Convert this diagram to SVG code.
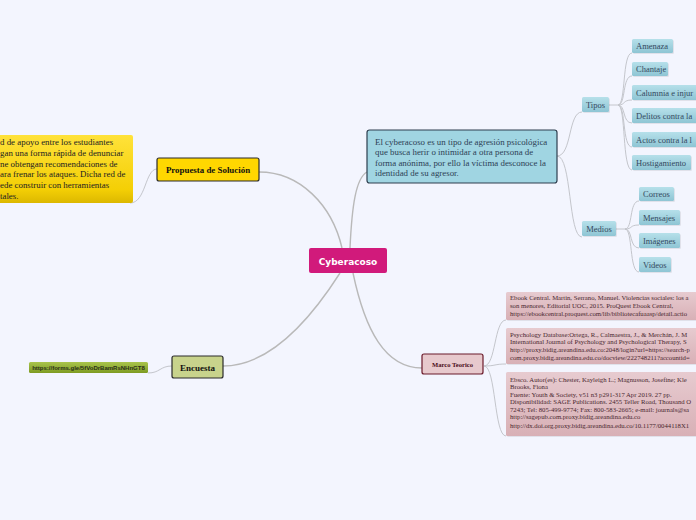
<svg xmlns="http://www.w3.org/2000/svg" width="696" height="520" viewBox="0 0 696 520">
<style>
.bg{fill:#f3f5fe}
.conn{fill:none;stroke:#b9b9b9;stroke-width:1.4}
.sub{fill:none;stroke:#c4c6cc;stroke-width:1}
.serif{font-family:"Liberation Serif","Times New Roman",serif}
.sans{font-family:"DejaVu Sans","Liberation Sans",sans-serif}
.main{fill:#d11a7b}
.mainT{fill:#fff;font-weight:bold;font-size:9px}
.topic{stroke:#2b2b2b;stroke-width:1.2}
.topicT{font-weight:bold;fill:#111}
.leaf{fill:url(#blue)}
.leafT{font-size:8.5px;fill:#34495e}
.ref{fill:url(#pink)}
.refT{font-size:6.7px;fill:#4a2830}
.shadow{fill:#000;opacity:0.08}
</style>
<defs>
<linearGradient id="blue" x1="0" y1="0" x2="0" y2="1">
<stop offset="0" stop-color="#b6e0ea"/><stop offset="1" stop-color="#8ec5d4"/>
</linearGradient>
<linearGradient id="pink" x1="0" y1="0" x2="0" y2="1">
<stop offset="0" stop-color="#e7cbd0"/><stop offset="1" stop-color="#d8b0b6"/>
</linearGradient>
<linearGradient id="yellow" x1="0" y1="0" x2="0" y2="1">
<stop offset="0" stop-color="#ffe23a"/><stop offset="0.8" stop-color="#f4cf05"/><stop offset="1" stop-color="#dcb800"/>
</linearGradient>
<linearGradient id="green" x1="0" y1="0" x2="0" y2="1">
<stop offset="0" stop-color="#a9c44c"/><stop offset="1" stop-color="#7e9b22"/>
</linearGradient>
</defs>
<rect class="bg" x="0" y="0" width="696" height="520"/>

<g id="connectors">
<path class="conn" d="M342,248 C332,205 300,172 259,172"/>
<path class="conn" d="M350,248 C352,205 356,178 367,172"/>
<path class="conn" d="M353,273 C365,330 385,368 422,368"/>
<path class="conn" d="M340,273 C310,320 270,366 223,366"/>
<path class="sub" d="M157,169 C145,169 146,203 130,203"/>
<path class="sub" d="M172,366 C160,366 160,373 148,373"/>
<path class="sub" d="M557,156 C572,156 568,112 582,112"/>
<path class="sub" d="M557,156 C572,156 568,237 582,237"/>
<path class="sub" d="M609,105 L618,105"/>
<path class="sub" d="M618,105 C626,105 622,53 632,53"/>
<path class="sub" d="M618,105 C626,105 622,76 632,76"/>
<path class="sub" d="M618,105 C626,105 622,100 632,100"/>
<path class="sub" d="M618,105 C626,105 622,123 632,123"/>
<path class="sub" d="M618,105 C626,105 622,147 632,147"/>
<path class="sub" d="M618,105 C626,105 622,170 632,170"/>
<path class="sub" d="M616,229 L625,229"/>
<path class="sub" d="M625,229 C633,229 629,201 639,201"/>
<path class="sub" d="M625,229 C633,229 629,225 639,225"/>
<path class="sub" d="M625,229 C633,229 629,248 639,248"/>
<path class="sub" d="M625,229 C633,229 629,272 639,272"/>
<path class="sub" d="M484,366 C496,366 494,320 506,320"/>
<path class="sub" d="M484,366 C496,366 494,364 506,364"/>
<path class="sub" d="M484,366 C496,366 494,436 506,436"/>
</g>

<g id="cyberacoso">
<rect class="main" x="309" y="248" width="78" height="25" rx="2"/>
<text class="sans mainT" x="348" y="264.5" text-anchor="middle">Cyberacoso</text>
</g>

<g id="propuesta">
<rect class="topic" x="157" y="158" width="102" height="23" rx="2" fill="#ffd700"/>
<text class="serif topicT" x="208" y="173" font-size="8.9" text-anchor="middle">Propuesta de Solución</text>
</g>

<g id="nota-propuesta">
<rect x="-4" y="135" width="137" height="68" rx="2" fill="url(#yellow)"/>
<g class="serif" font-size="8.9" fill="#222">
<text x="0" y="145">d de apoyo entre los estudiantes</text>
<text x="0" y="155.8">gan una forma rápida de denunciar</text>
<text x="0" y="166.6">ne obtengan recomendaciones de</text>
<text x="0" y="177.4">ara frenar los ataques. Dicha red de</text>
<text x="0" y="188.2">ede construir con herramientas</text>
<text x="0" y="199">tales.</text>
</g>
</g>

<g id="definicion">
<rect x="367" y="130" width="190" height="53" rx="2.5" fill="#a0d5e2" stroke="#2e3f4f" stroke-width="1.2"/>
<g class="serif" font-size="8.9" fill="#2d4155">
<text x="375" y="144.5">El cyberacoso es un tipo de agresión psicológica</text>
<text x="375" y="155">que busca herir o intimidar a otra persona de</text>
<text x="375" y="165.5">forma anónima, por ello la víctima desconoce la</text>
<text x="375" y="176">identidad de su agresor.</text>
</g>
</g>

<g id="tipos">
<rect class="shadow" x="583" y="98" width="27" height="15" rx="1.5"/>
<rect class="leaf" x="582" y="97" width="27" height="15" rx="1.5"/>
<text class="serif leafT" x="595.5" y="107.5" text-anchor="middle">Tipos</text>
</g>
<g id="amenaza">
<rect class="shadow" x="633" y="40" width="41" height="14" rx="1.5"/>
<rect class="leaf" x="632" y="39" width="41" height="14" rx="1.5"/>
<text class="serif leafT" x="636" y="49">Amenaza</text>
</g>
<g id="chantaje">
<rect class="shadow" x="633" y="63" width="36" height="14" rx="1.5"/>
<rect class="leaf" x="632" y="62" width="36" height="14" rx="1.5"/>
<text class="serif leafT" x="636" y="72">Chantaje</text>
</g>
<g id="calumnia">
<rect class="shadow" x="633" y="86" width="70" height="15" rx="1.5"/>
<rect class="leaf" x="632" y="85" width="70" height="15" rx="1.5"/>
<text class="serif leafT" x="636" y="95.5">Calumnia e injur</text>
</g>
<g id="delitos">
<rect class="shadow" x="633" y="109" width="70" height="15" rx="1.5"/>
<rect class="leaf" x="632" y="108" width="70" height="15" rx="1.5"/>
<text class="serif leafT" x="636" y="119">Delitos contra la</text>
</g>
<g id="actos">
<rect class="shadow" x="633" y="133" width="70" height="15" rx="1.5"/>
<rect class="leaf" x="632" y="132" width="70" height="15" rx="1.5"/>
<text class="serif leafT" x="636" y="143">Actos contra la l</text>
</g>
<g id="hostigamiento">
<rect class="shadow" x="633" y="156" width="59" height="15" rx="1.5"/>
<rect class="leaf" x="632" y="155" width="59" height="15" rx="1.5"/>
<text class="serif leafT" x="636" y="166">Hostigamiento</text>
</g>

<g id="medios">
<rect class="shadow" x="583" y="222" width="34" height="15" rx="1.5"/>
<rect class="leaf" x="582" y="221" width="34" height="15" rx="1.5"/>
<text class="serif leafT" x="599" y="231.5" text-anchor="middle">Medios</text>
</g>
<g id="correos">
<rect class="shadow" x="640" y="188" width="35" height="14" rx="1.5"/>
<rect class="leaf" x="639" y="187" width="35" height="14" rx="1.5"/>
<text class="serif leafT" x="643" y="197">Correos</text>
</g>
<g id="mensajes">
<rect class="shadow" x="640" y="211" width="41" height="15" rx="1.5"/>
<rect class="leaf" x="639" y="210" width="41" height="15" rx="1.5"/>
<text class="serif leafT" x="643" y="221">Mensajes</text>
</g>
<g id="imagenes">
<rect class="shadow" x="640" y="234" width="41" height="15" rx="1.5"/>
<rect class="leaf" x="639" y="233" width="41" height="15" rx="1.5"/>
<text class="serif leafT" x="643" y="244">Imágenes</text>
</g>
<g id="videos">
<rect class="shadow" x="640" y="258" width="32" height="15" rx="1.5"/>
<rect class="leaf" x="639" y="257" width="32" height="15" rx="1.5"/>
<text class="serif leafT" x="643" y="268">Videos</text>
</g>

<g id="marco-teorico">
<rect x="422" y="354" width="61" height="20" rx="2" fill="#e7c9cd" stroke="#6b1a2a" stroke-width="1.2"/>
<text class="serif" x="452.5" y="366.5" font-size="6.6" font-weight="bold" fill="#4a0d1a" text-anchor="middle">Marco Teorico</text>
</g>

<g id="ref-ebook">
<rect class="shadow" x="507" y="293" width="200" height="28" rx="1.5"/>
<rect class="ref" x="506" y="292" width="200" height="28" rx="1.5"/>
<g class="serif refT">
<text x="510" y="300">Ebook Central. Martin, Serrano, Manuel. Violencias sociales: los a</text>
<text x="510" y="308">son menores, Editorial UOC, 2015. ProQuest Ebook Central,</text>
<text x="510" y="316.3">https://ebookcentral.proquest.com/lib/bibliotecafuaasp/detail.actio</text>
</g>
</g>

<g id="ref-psychology">
<rect class="shadow" x="507" y="329" width="200" height="36" rx="1.5"/>
<rect class="ref" x="506" y="328" width="200" height="36" rx="1.5"/>
<g class="serif refT">
<text x="510" y="336.5">Psychology Database:Ortega, R., Calmaestra, J., &amp; Merchán, J. M</text>
<text x="510" y="344">International Journal of Psychology and Psychological Therapy, S</text>
<text x="510" y="351.5">http://proxy.bidig.areandina.edu.co:2048/login?url=https://search-p</text>
<text x="510" y="359.5">com.proxy.bidig.areandina.edu.co/docview/222748211?accountid=</text>
</g>
</g>

<g id="ref-ebsco">
<rect class="shadow" x="507" y="373" width="200" height="64" rx="1.5"/>
<rect class="ref" x="506" y="372" width="200" height="64" rx="1.5"/>
<g class="serif refT">
<text x="510" y="381.5">Ebsco. Autor(es): Chester, Kayleigh L.; Magnusson, Josefine; Kle</text>
<text x="510" y="389">Brooks, Fiona</text>
<text x="510" y="396.5">Fuente: Youth &amp; Society, v51 n3 p291-317 Apr 2019. 27 pp.</text>
<text x="510" y="404">Disponibilidad: SAGE Publications. 2455 Teller Road, Thousand O</text>
<text x="510" y="411.5">7243; Tel: 805-499-9774; Fax: 800-583-2665; e-mail: journals@sa</text>
<text x="510" y="419">http://sagepub.com.proxy.bidig.areandina.edu.co</text>
<text x="510" y="428">http://dx.doi.org.proxy.bidig.areandina.edu.co/10.1177/0044118X1</text>
</g>
</g>

<g id="encuesta">
<rect class="topic" x="172" y="356" width="51" height="22" rx="2" fill="#c8d38c"/>
<text class="serif topicT" x="197.5" y="370.5" font-size="9" text-anchor="middle">Encuesta</text>
</g>

<g id="url">
<rect x="29" y="362" width="119" height="11" rx="1.5" fill="url(#green)"/>
<text x="88.5" y="370" font-family="Liberation Sans, Arial, sans-serif" font-size="6" font-weight="bold" fill="#2a2f1a" text-anchor="middle">https://forms.gle/5fVoDrBamRsNHnGT8</text>
</g>
</svg>
